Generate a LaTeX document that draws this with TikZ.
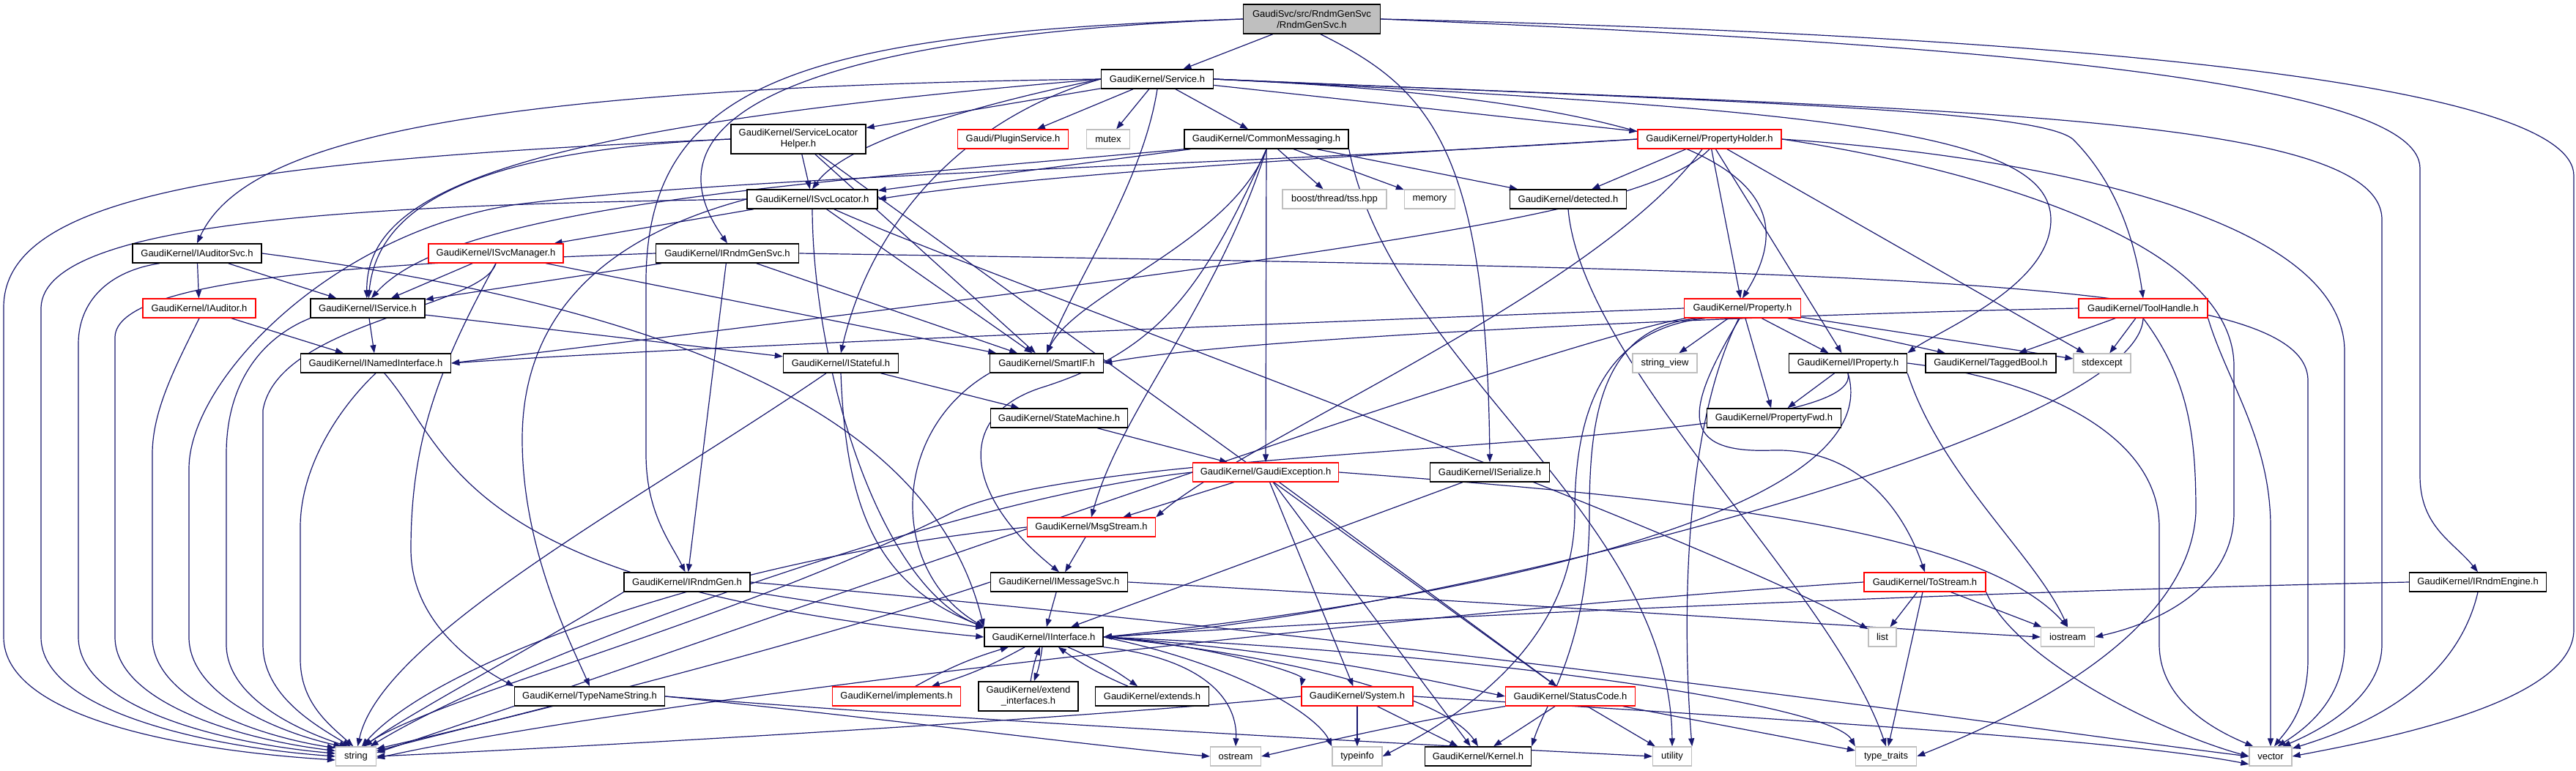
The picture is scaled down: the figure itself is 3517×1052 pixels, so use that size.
\documentclass[tikz,border=0pt]{standalone}
\usepackage{fontspec}
\newfontfamily\nfont{Liberation Sans}
\usetikzlibrary{arrows.meta,backgrounds}
\definecolor{edgec}{HTML}{191970}
\definecolor{grayb}{HTML}{BFBFBF}
\definecolor{redb}{HTML}{FF0000}
\tikzset{
  nb/.style={draw=black, line width=1.5pt, rectangle, inner sep=0pt, minimum height=26pt, fill=white, align=center, font={\nfont\fontsize{13}{15}\selectfont}},
  nr/.style={nb, draw=redb, line width=1.3pt},
  ng/.style={nb, draw=grayb, line width=1.3pt},
  e/.style={draw=edgec, line width=1.2pt, -{Triangle[length=11pt,width=8pt]}},
}
\begin{document}
\begin{tikzpicture}[x=1pt,y=-1pt]
\useasboundingbox (0,0) rectangle (3517,1052);
% ---------------- nodes ----------------
\node[nb, fill=grayb, minimum width=187pt, minimum height=40pt] (root) at (1791,26) {GaudiSvc/src/RndmGenSvc\\/RndmGenSvc.h};
\node[nb, minimum width=153pt] (service) at (1580,108) {GaudiKernel/Service.h};
\node[nb, minimum width=184pt, minimum height=40pt] (slhelper) at (1090,190) {GaudiKernel/ServiceLocator\\Helper.h};
\node[nr, minimum width=151pt] (plugin) at (1383,190) {Gaudi/PluginService.h};
\node[ng, minimum width=59pt] (mutex) at (1513,190) {mutex};
\node[nb, minimum width=224pt] (commsg) at (1729,190) {GaudiKernel/CommonMessaging.h};
\node[nr, minimum width=196pt] (propholder) at (2334,190) {GaudiKernel/PropertyHolder.h};
\node[nb, minimum width=178pt] (isvcloc) at (1109,272) {GaudiKernel/ISvcLocator.h};
\node[ng, minimum width=142pt] (boost) at (1822,272) {boost/thread/tss.hpp};
\node[ng, minimum width=69pt] (memory) at (1952,272) {memory};
\node[nb, minimum width=159pt] (detected) at (2141,272) {GaudiKernel/detected.h};
\node[nb, minimum width=176pt] (iauditorsvc) at (269,346) {GaudiKernel/IAuditorSvc.h};
\node[nr, minimum width=184pt] (isvcmgr) at (677,346) {GaudiKernel/ISvcManager.h};
\node[nb, minimum width=195pt] (irndmgensvc) at (993,346) {GaudiKernel/IRndmGenSvc.h};
\node[nr, minimum width=154pt] (iauditor) at (272,421) {GaudiKernel/IAuditor.h};
\node[nb, minimum width=156pt] (iservice) at (502,421) {GaudiKernel/IService.h};
\node[nr, minimum width=159pt] (property) at (2379,421) {GaudiKernel/Property.h};
\node[nr, minimum width=176pt] (toolhandle) at (2926,421) {GaudiKernel/ToolHandle.h};
\node[nb, minimum width=205pt] (inamed) at (513,496) {GaudiKernel/INamedInterface.h};
\node[nb, minimum width=157pt] (istateful) at (1148,496) {GaudiKernel/IStateful.h};
\node[nb, minimum width=155pt] (smartif) at (1429,496) {GaudiKernel/SmartIF.h};
\node[ng, minimum width=88pt] (strview) at (2273,496) {string\_view};
\node[nb, minimum width=161pt] (iproperty) at (2523,496) {GaudiKernel/IProperty.h};
\node[nb, minimum width=178pt] (taggedbool) at (2718,496) {GaudiKernel/TaggedBool.h};
\node[ng, minimum width=78pt] (stdexcept) at (2870,496) {stdexcept};
\node[nb, minimum width=187pt] (statemachine) at (1446,571) {GaudiKernel/StateMachine.h};
\node[nb, minimum width=183pt] (propfwd) at (2422,571) {GaudiKernel/PropertyFwd.h};
\node[nr, minimum width=199pt] (gaudiexc) at (1728,645) {GaudiKernel/GaudiException.h};
\node[nb, minimum width=163pt] (iserialize) at (2034,645) {GaudiKernel/ISerialize.h};
\node[nr, minimum width=175pt] (msgstream) at (1490,720) {GaudiKernel/MsgStream.h};
\node[nb, minimum width=172pt] (irndmgen) at (938,795) {GaudiKernel/IRndmGen.h};
\node[nb, minimum width=187pt] (imsgsvc) at (1446,795) {GaudiKernel/IMessageSvc.h};
\node[nr, minimum width=166pt] (tostream) at (2628,795) {GaudiKernel/ToStream.h};
\node[nb, minimum width=187pt] (irndmengine) at (3383,795) {GaudiKernel/IRndmEngine.h};
\node[nb, minimum width=162pt] (iinterface) at (1425,870) {GaudiKernel/IInterface.h};
\node[ng, minimum width=38pt] (list) at (2570,870) {list};
\node[ng, minimum width=73pt] (iostream) at (2823,870) {iostream};
\node[nb, minimum width=205pt] (typename) at (805,951) {GaudiKernel/TypeNameString.h};
\node[nr, minimum width=175pt] (implements) at (1224,951) {GaudiKernel/implements.h};
\node[nb, minimum width=136pt, minimum height=40pt] (extendif) at (1404,951) {GaudiKernel/extend\\\_interfaces.h};
\node[nb, minimum width=155pt] (extends) at (1573,951) {GaudiKernel/extends.h};
\node[nr, minimum width=152pt] (system) at (1853,951) {GaudiKernel/System.h};
\node[nr, minimum width=177pt] (statuscode) at (2144,951) {GaudiKernel/StatusCode.h};
\node[ng, minimum width=55pt] (string) at (486,1033) {string};
\node[ng, minimum width=69pt] (ostream) at (1687,1033) {ostream};
\node[ng, minimum width=68pt] (typeinfo) at (1853,1033) {typeinfo};
\node[nb, minimum width=145pt] (kernel) at (2018,1033) {GaudiKernel/Kernel.h};
\node[ng, minimum width=53pt] (utility) at (2283,1033) {utility};
\node[ng, minimum width=83pt] (typetraits) at (2575,1033) {type\_traits};
\node[ng, minimum width=58pt] (vector) at (3100,1033) {vector};
% ---------------- edges ----------------
\begin{pgfonlayer}{background}
\fill[white] (0,0) rectangle (3517,1052);
% root
\draw[e] (root) -- (service);
\draw[e] (root.west) .. controls (1200,45) and (850,130) .. (irndmgensvc.north);
\draw[e] (root.west) .. controls (1100,45) and (885,110) .. (882,380) -- (882,620) .. controls (882,700) and (915,740) .. (irndmgen.100);
\draw[e] (root.300) .. controls (1950,120) and (2030,200) .. (iserialize.north);
\draw[e] (root.east) .. controls (2700,60) and (3304,110) .. (3304,230) -- (3304,650) .. controls (3304,720) and (3350,740) .. (irndmengine.north);
\draw[e] (root.east) .. controls (2900,50) and (3514,120) .. (3514,240) -- (3514,860) .. controls (3514,960) and (3250,1010) .. (vector.east);
% Service.h
\draw[e] (service.west) .. controls (600,120) and (330,200) .. (iauditorsvc.north);
\draw[e] (service.west) .. controls (700,175) and (500,260) .. (iservice.95);
\draw[e] (service) -- (slhelper);
\draw[e] (service.west) .. controls (1300,150) and (1150,200) .. (isvcloc.north);
\draw[e] (service.west) .. controls (1320,160) and (1190,300) .. (istateful.north);
\draw[e] (service) -- (plugin);
\draw[e] (service) -- (mutex);
\draw[e] (service) -- (commsg);
\draw[e] (service.south) .. controls (1560,250) and (1470,380) .. (smartif.north);
\draw[e] (service) -- (propholder);
\draw[e] (service.east) .. controls (2380,140) and (2470,260) .. (property.north);
\draw[e] (service.east) .. controls (2500,150) and (2800,180) .. (2800,300) .. controls (2800,390) and (2650,450) .. (iproperty.north east);
\draw[e] (service.east) .. controls (2400,140) and (2780,150) .. (2830,190) .. controls (2890,250) and (2915,330) .. (toolhandle.north);
\draw[e] (service.east) .. controls (2600,150) and (3252,150) .. (3252,300) -- (3252,880) .. controls (3252,960) and (3150,1005) .. (vector.40);
% ServiceLocatorHelper.h
\draw[e] (slhelper) -- (isvcloc);
\draw[e] (slhelper) -- (smartif);
\draw[e] (slhelper) -- (statuscode);
\draw[e] (slhelper.west) .. controls (650,205) and (515,280) .. (iservice.85);
\draw[e] (slhelper.west) .. controls (300,220) and (5,270) .. (5,420) -- (5,870) .. controls (5,980) and (250,1025) .. (string.190);
% CommonMessaging.h
\draw[e] (commsg) -- (isvcloc);
\draw[e] (commsg.south west) .. controls (1100,250) and (620,280) .. (iservice.70);
\draw[e] (commsg.south) .. controls (1680,330) and (1470,400) .. (smartif.north);
\draw[e] (commsg) -- (gaudiexc);
\draw[e] (commsg.south) .. controls (1640,400) and (1580,480) .. (1420,530) .. controls (1300,570) and (1320,680) .. (imsgsvc.north);
\draw[e] (commsg.south) .. controls (1660,420) and (1530,560) .. (msgstream.north);
\draw[e] (commsg) -- (detected);
\draw[e] (commsg) -- (boost);
\draw[e] (commsg) -- (memory);
\draw[e] (commsg.south east) .. controls (1900,500) and (2280,700) .. (utility.north);
% PropertyHolder.h
\draw[e] (propholder.west) .. controls (1800,215) and (1400,240) .. (isvcloc.east);
\draw[e] (propholder.west) .. controls (1700,225) and (1000,240) .. (700,280) .. controls (450,320) and (258,520) .. (258,640) -- (258,870) .. controls (258,950) and (380,1000) .. (string.145);
\draw[e] (propholder.south) .. controls (2250,290) and (1900,340) .. (inamed.east);
\draw[e] (propholder) -- (detected);
\draw[e] (propholder) -- (property);
\draw[e] (propholder) -- (iproperty);
\draw[e] (propholder) -- (stdexcept);
\draw[e] (propholder) .. controls (2180,400) and (1700,600) .. (msgstream.north east);
\draw[e] (propholder.east) .. controls (2700,230) and (3050,330) .. (3050,500) -- (3050,700) .. controls (3050,800) and (2950,850) .. (iostream.east);
\draw[e] (propholder.east) .. controls (2800,215) and (3201,300) .. (3201,480) -- (3201,880) .. controls (3201,960) and (3140,1000) .. (vector.55);
% ISvcLocator.h
\draw[e] (isvcloc) -- (isvcmgr);
\draw[e] (isvcloc.west) .. controls (500,280) and (60,300) .. (56,420) -- (56,870) .. controls (56,970) and (280,1020) .. (string.180);
\draw[e] (isvcloc.west) .. controls (800,330) and (713,450) .. (713,600) .. controls (713,750) and (780,880) .. (typename.north);
\draw[e] (isvcloc.south) .. controls (1110,500) and (1200,800) .. (iinterface.north west);
\draw[e] (isvcloc) -- (smartif);
\draw[e] (isvcloc) .. controls (1300,360) and (2300,720) .. (list);
% IAuditorSvc.h
\draw[e] (iauditorsvc) -- (iauditor);
\draw[e] (iauditorsvc) -- (iservice);
\draw[e] (iauditorsvc.east) .. controls (1000,430) and (1280,600) .. (iinterface.north west);
\draw[e] (iauditorsvc.195) .. controls (150,370) and (107,410) .. (107,470) -- (107,870) .. controls (107,965) and (300,1015) .. (string.172);
% ISvcManager.h
\draw[e] (isvcmgr) -- (iservice);
\draw[e] (isvcmgr) -- (smartif);
\draw[e] (isvcmgr.south) .. controls (600,500) and (561,600) .. (561,750) .. controls (561,850) and (650,910) .. (typename.north west);
\draw[e] (isvcmgr.south) .. controls (660,420) and (380,440) .. (359,560) -- (359,880) .. controls (359,950) and (430,990) .. (string.118);
% IRndmGenSvc.h
\draw[e] (irndmgensvc) -- (iservice);
\draw[e] (irndmgensvc.west) .. controls (500,360) and (160,380) .. (157,460) -- (157,870) .. controls (157,960) and (330,1010) .. (string.165);
\draw[e] (irndmgensvc) -- (smartif);
\draw[e] (irndmgensvc) -- (irndmgen);
\draw[e] (irndmgensvc.east) .. controls (2600,370) and (3151,380) .. (3151,520) -- (3151,900) .. controls (3151,970) and (3120,1000) .. (vector.70);
% IAuditor.h, IService.h, INamedInterface.h
\draw[e] (iauditor) -- (inamed);
\draw[e] (iauditor.south) .. controls (240,500) and (208,560) .. (208,620) -- (208,870) .. controls (208,955) and (350,1005) .. (string.158);
\draw[e] (iservice) -- (inamed);
\draw[e] (iservice) -- (istateful);
\draw[e] (iservice.south west) .. controls (360,460) and (309,520) .. (309,620) -- (309,880) .. controls (309,950) and (400,995) .. (string.130);
\draw[e] (inamed.south) .. controls (460,560) and (410,640) .. (410,720) -- (410,900) .. controls (410,960) and (450,990) .. (string.105);
\draw[e] (inamed) .. controls (620,620) and (620,800) .. (iinterface.west);
% IStateful.h, SmartIF.h, StateMachine.h
\draw[e] (istateful.south) .. controls (1155,700) and (1200,800) .. (iinterface.north west);
\draw[e] (istateful) -- (statemachine);
\draw[e] (istateful) .. controls (880,680) and (520,870) .. (string.80);
\draw[e] (smartif.south west) .. controls (1214,590) and (1214,780) .. (iinterface.north west);
\draw[e] (statemachine) -- (gaudiexc);
% GaudiException.h
\draw[e] (gaudiexc) -- (msgstream);
\draw[e] (gaudiexc) -- (statuscode);
\draw[e] (gaudiexc) -- (system);
\draw[e] (gaudiexc) -- (kernel);
\draw[e] (gaudiexc.west) .. controls (1300,680) and (700,900) .. (string.35);
\draw[e] (gaudiexc.east) .. controls (2300,680) and (2700,720) .. (iostream.north);
% MsgStream.h, IMessageSvc.h
\draw[e] (msgstream) -- (imsgsvc);
\draw[e] (msgstream.west) .. controls (1000,760) and (600,900) .. (string.60);
\draw[e] (imsgsvc) -- (iinterface);
\draw[e] (imsgsvc.west) .. controls (1100,880) and (700,980) .. (string.20);
\draw[e] (imsgsvc.east) .. controls (2000,820) and (2600,860) .. (iostream.west);
% IRndmGen.h, ISerialize.h, IRndmEngine.h
\draw[e] (irndmgen) -- (iinterface);
\draw[e] (irndmgen.south west) .. controls (700,900) and (550,980) .. (string.50);
\draw[e] (irndmgen.east) .. controls (2000,880) and (2800,1000) .. (vector.west);
\draw[e] (iserialize) -- (iinterface);
\draw[e] (irndmengine.west) .. controls (2600,810) and (1800,850) .. (iinterface.east);
\draw[e] (irndmengine.south) .. controls (3350,950) and (3200,1000) .. (vector.20);
% IInterface.h
\draw[e] (iinterface) to[bend left=6] (implements);
\draw[e] (implements) to[bend left=6] (iinterface);
\draw[e] (iinterface) to[bend left=6] (extendif);
\draw[e] (extendif) to[bend left=6] (iinterface);
\draw[e] (iinterface) to[bend left=6] (extends);
\draw[e] (extends) to[bend left=6] (iinterface);
\draw[e] (iinterface.east) .. controls (1650,880) and (1780,920) .. (system.north west);
\draw[e] (iinterface.east) .. controls (1800,890) and (2000,940) .. (statuscode.west);
\draw[e] (iinterface.east) .. controls (1800,900) and (1980,960) .. (kernel.north);
\draw[e] (iinterface.east) .. controls (1700,910) and (1800,980) .. (typeinfo.north west);
\draw[e] (iinterface.east) .. controls (2000,890) and (2500,960) .. (typetraits.north west);
\draw[e] (iinterface.south east) .. controls (1650,900) and (1690,960) .. (ostream.north);
% System.h, StatusCode.h
\draw[e] (system) -- (typeinfo);
\draw[e] (system) -- (kernel);
\draw[e] (system.west) .. controls (1500,980) and (800,1020) .. (string.0);
\draw[e] (system.east) .. controls (2400,980) and (2900,1010) .. (vector.200);
\draw[e] (statuscode) -- (kernel);
\draw[e] (statuscode) -- (utility);
\draw[e] (statuscode) -- (typetraits);
\draw[e] (statuscode.south west) .. controls (1900,990) and (1780,1020) .. (ostream.east);
% TypeNameString.h, detected.h
\draw[e] (typename) -- (string.15);
\draw[e] (typename.east) .. controls (1200,980) and (1500,1020) .. (ostream.west);
\draw[e] (typename.east) .. controls (1400,990) and (2000,1020) .. (utility.west);
\draw[e] (detected.south) .. controls (2160,500) and (2500,800) .. (typetraits.north);
% Property.h
\draw[e] (property.west) .. controls (1800,440) and (1000,470) .. (inamed.east);
\draw[e] (property) -- (strview);
\draw[e] (property) -- (propfwd);
\draw[e] (property) -- (iproperty);
\draw[e] (property) -- (taggedbool);
\draw[e] (property) -- (stdexcept);
\draw[e] (property.255) .. controls (2300,560) and (2290,620) .. (2420,615) .. controls (2540,612) and (2600,700) .. (tostream.north);
\draw[e] (property.193) .. controls (2190,445) and (2170,560) .. (2170,700) .. controls (2170,880) and (2110,960) .. (kernel.north east);
\draw[e] (property.195) .. controls (2190,450) and (2150,560) .. (2150,700) .. controls (2150,900) and (1950,1000) .. (typeinfo.east);
\draw[e] (property.250) .. controls (2290,600) and (2300,900) .. (utility.north east);
\draw[e] (property.190) .. controls (2100,470) and (900,900) .. (string.10);
% IProperty.h
\draw[e] (iproperty) -- (propfwd);
\draw[e] (iproperty.south) .. controls (2550,620) and (1500,600) .. (1300,700) .. controls (1000,850) and (600,950) .. (string.55);
\draw[e] (iproperty.south) .. controls (2580,700) and (2000,820) .. (iinterface.east);
\draw[e] (iproperty.south east) .. controls (2650,650) and (2780,760) .. (iostream.north);
\draw[e] (iproperty.east) .. controls (2800,520) and (2948,600) .. (2948,720) -- (2948,880) .. controls (2948,960) and (3030,1000) .. (vector.150);
% ToolHandle.h
\draw[e] (toolhandle) -- (taggedbool);
\draw[e] (toolhandle) -- (stdexcept);
\draw[e] (toolhandle.west) .. controls (2400,430) and (1700,460) .. (smartif.east);
\draw[e] (toolhandle.south) .. controls (2920,600) and (1900,850) .. (iinterface.east);
\draw[e] (toolhandle.south) .. controls (2990,520) and (2998,600) .. (2998,700) .. controls (2990,850) and (2800,960) .. (typetraits.east);
\draw[e] (toolhandle.south east) .. controls (3040,520) and (3100,600) .. (3100,720) -- (vector.north);
% ToStream.h
\draw[e] (tostream) -- (list);
\draw[e] (tostream) -- (typetraits);
\draw[e] (tostream) -- (iostream);
\draw[e] (tostream.south east) .. controls (2750,900) and (2950,1000) .. (vector.180);
\draw[e] (tostream.west) .. controls (2000,830) and (900,950) .. (string.355);
\end{pgfonlayer}
\end{tikzpicture}
\end{document}
